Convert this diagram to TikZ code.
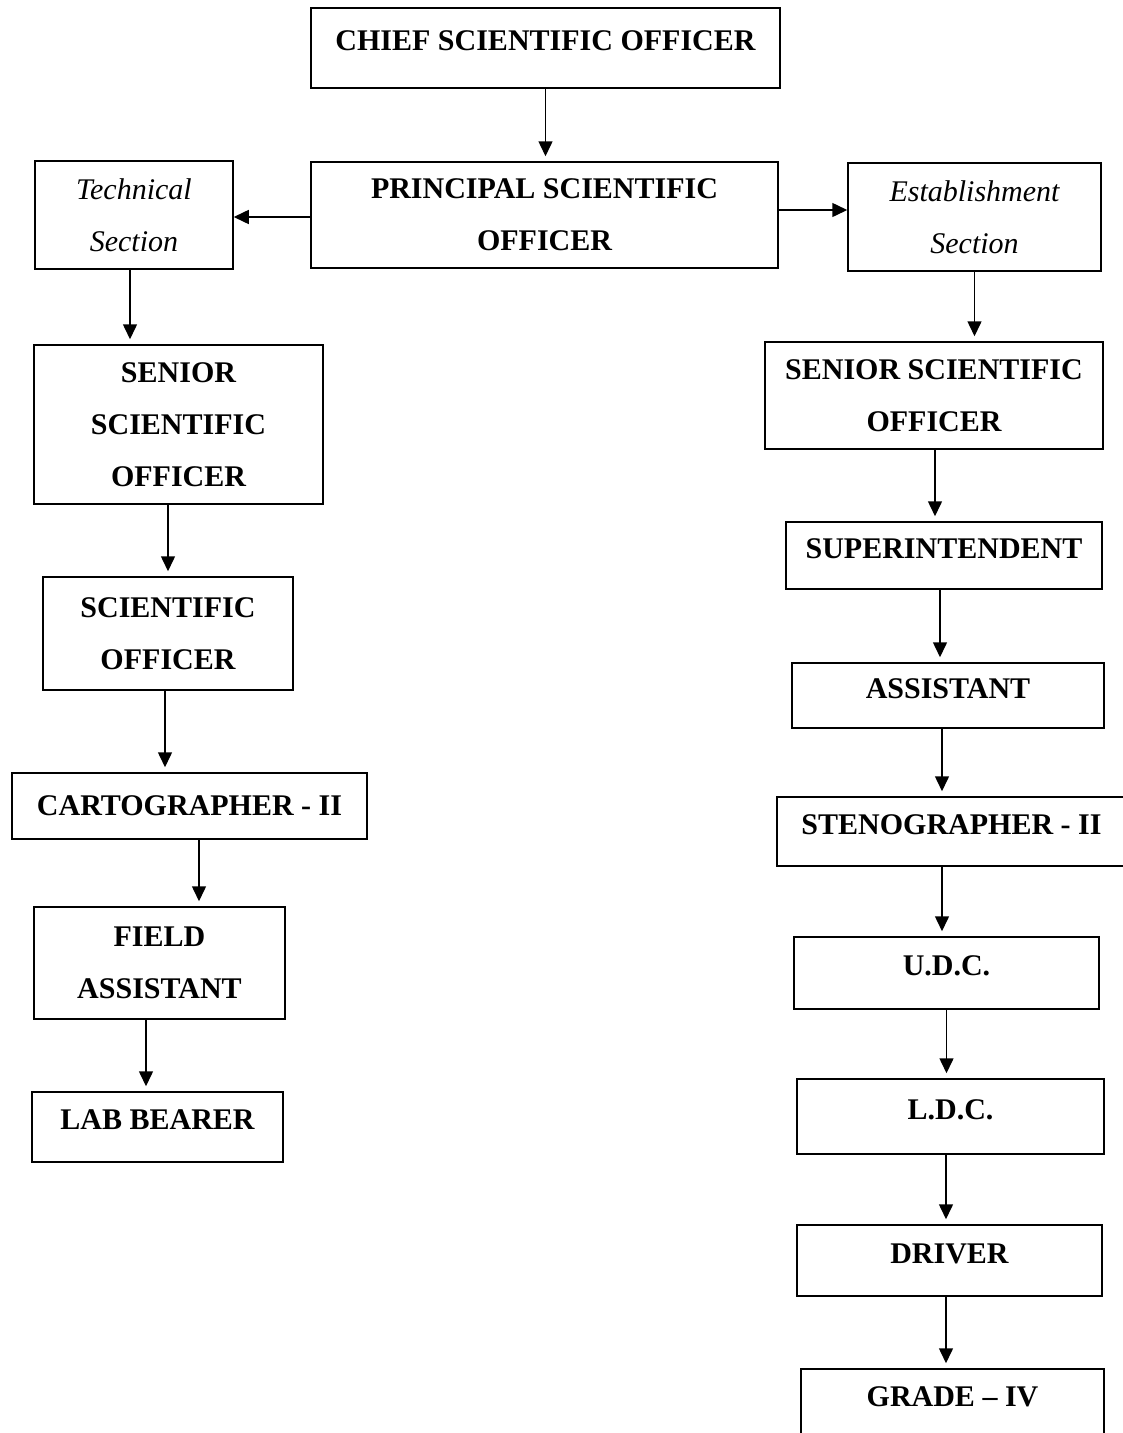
\documentclass[tikz,border=0pt]{standalone}
\usepackage{fontspec}
\setmainfont{Liberation Serif}
\usetikzlibrary{arrows.meta}

\begin{document}
\begin{tikzpicture}[x=0.4pt,y=-0.4pt,align=center,
        box/.style 2 args={draw,line width=0.6pt,inner sep=0pt,
            minimum width=#1*0.4pt,minimum height=#2*0.4pt,
            font=\fontsize{12}{20.8}\selectfont\bfseries},
        sect/.style={font=\fontsize{12}{20.8}\selectfont\itshape},
        oneline/.style={text height=8pt,text depth=5.7pt},
        arr/.style={line width=0.6pt,-{Triangle[length=6pt,width=5.6pt]}},
        down/.style={arr,shorten >=2pt}]
        \useasboundingbox (0,0) rectangle (1122,1433);
        \node[box={469}{80},oneline](c0) at (545.5,48) {CHIEF SCIENTIFIC OFFICER};
        \node[box={467}{106}](p0) at (544.5,215) {PRINCIPAL SCIENTIFIC\\OFFICER};
        \node[box={198}{108},sect](t0) at (134,215) {Technical\\Section};
        \node[box={253}{108},sect](e0) at (974.5,217) {Establishment\\Section};
        % technical side
        \node[box={289}{159}](t1) at (178.5,424.5) {SENIOR\\SCIENTIFIC\\OFFICER};
        \node[box={250}{113}](t2) at (168,633.5) {SCIENTIFIC\\OFFICER};
        \node[box={355}{66}](t3) at (189.5,806) {CARTOGRAPHER - II};
        \node[box={251}{112}](t4) at (159.5,963) {FIELD\\ASSISTANT};
        \node[box={251}{70},oneline](t5) at (157.5,1127) {LAB BEARER};
        % establishment side
        \node[box={338}{107}](e1) at (934,395.5) {SENIOR SCIENTIFIC\\OFFICER};
        \node[box={316}{67},oneline](e2) at (944,555.5) {SUPERINTENDENT};
        \node[box={312}{65},oneline](e3) at (948,695.5) {ASSISTANT};
        \node[box={349}{69},oneline](e4) at (951.5,831.5) {STENOGRAPHER - II};
        \node[box={305}{72},oneline](e5) at (946.5,973) {U.D.C.};
        \node[box={307}{75},oneline](e6) at (950.5,1116.5) {L.D.C.};
        \node[box={305}{71},oneline](e7) at (949.5,1260.5) {DRIVER};
        \node[box={303}{70},oneline](e8) at (952.5,1404) {GRADE -- IV};
        \draw[down](c0.south) -- (c0.south |- p0.north);
        \draw[arr]([shift={(0,2)}]p0.west) -- ([shift={(0,2)}]p0.west -| t0.east);
        \draw[arr]([shift={(0,-5)}]p0.east) -- ([shift={(0,-5)}]p0.east -| e0.west);
        \draw[down]([shift={(-4,0)}]t0.south) -- ([shift={(-4,0)}]t0.south |- t1.north);
        \draw[down]([shift={(-10.5,0)}]t1.south) -- ([shift={(-10.5,0)}]t1.south |- t2.north);
        \draw[down]([shift={(-3,0)}]t2.south) -- ([shift={(-3,0)}]t2.south |- t3.north);
        \draw[down]([shift={(9.5,0)}]t3.south) -- ([shift={(9.5,0)}]t3.south |- t4.north);
        \draw[down]([shift={(-13.5,0)}]t4.south) -- ([shift={(-13.5,0)}]t4.south |- t5.north);
        \draw[down](e0.south) -- (e0.south |- e1.north);
        \draw[down]([shift={(1,0)}]e1.south) -- ([shift={(1,0)}]e1.south |- e2.north);
        \draw[down]([shift={(-4,0)}]e2.south) -- ([shift={(-4,0)}]e2.south |- e3.north);
        \draw[down]([shift={(-6,0)}]e3.south) -- ([shift={(-6,0)}]e3.south |- e4.north);
        \draw[down]([shift={(-9.5,0)}]e4.south) -- ([shift={(-9.5,0)}]e4.south |- e5.north);
        \draw[down](e5.south) -- (e5.south |- e6.north);
        \draw[down]([shift={(-4.5,0)}]e6.south) -- ([shift={(-4.5,0)}]e6.south |- e7.north);
        \draw[down]([shift={(-3.5,0)}]e7.south) -- ([shift={(-3.5,0)}]e7.south |- e8.north);
    \end{tikzpicture}
\end{document}
